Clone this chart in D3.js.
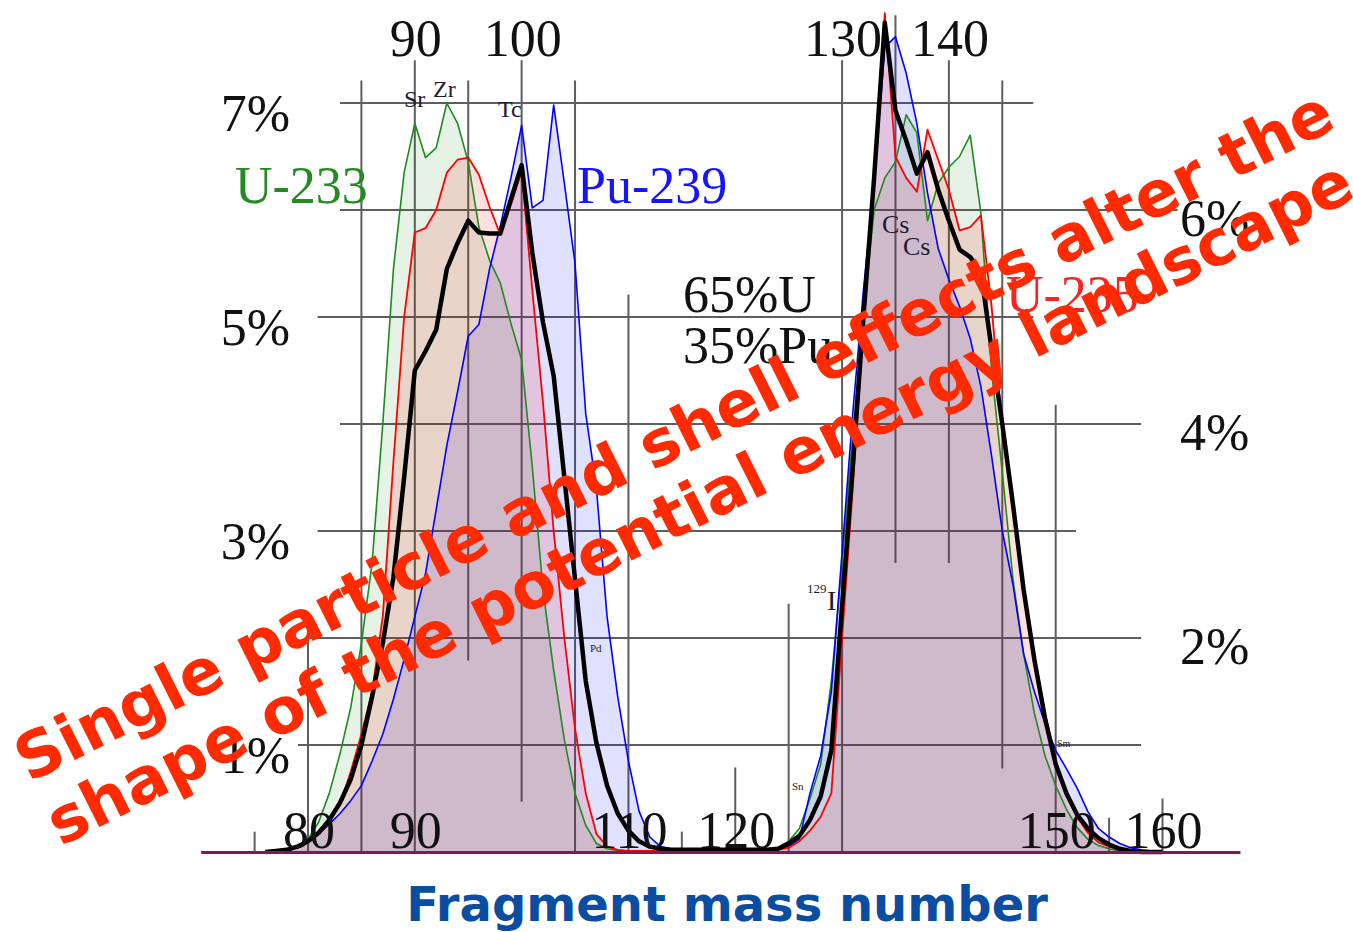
<!DOCTYPE html>
<html>
<head>
<meta charset="utf-8">
<script src="https://cdn.jsdelivr.net/npm/d3@7"></script>
<style>
  html, body { margin: 0; padding: 0; background: #fff; }
  svg { display: block; }
</style>
</head>
<body>
<svg id="chart" width="1353" height="932"></svg>
<script>
// Fission product yields (%) per fragment mass number, A = 76 ... 160
const masses = d3.range(76, 161);

const u233 = [
  0, 0.01, 0.02, 0.05, 0.12, 0.28, 0.55, 0.92, 1.35, 1.95,
  2.7, 4.0, 5.45, 6.35, 6.81, 6.49, 6.58, 7.0, 6.81, 6.45,
  5.84, 5.53, 5.32, 4.94, 4.6, 3.6, 2.45, 1.7, 1.05, 0.55,
  0.25, 0.08, 0.03, 0.015, 0.01, 0.01, 0.01, 0.01, 0.01, 0.01,
  0.01, 0.01, 0.01, 0.01, 0.01, 0.01, 0.015, 0.02, 0.04, 0.1,
  0.22, 0.5, 0.82, 1.6, 2.7, 3.9, 5.0, 6.0, 6.3, 6.45,
  6.89, 6.72, 5.9, 6.25, 6.4, 6.5, 6.7, 5.97, 4.5, 3.55,
  2.55, 1.85, 1.3, 0.9, 0.62, 0.4, 0.23, 0.12, 0.06, 0.03,
  0.01, 0, 0, 0, 0
];

const u235 = [
  0, 0.01, 0.02, 0.05, 0.1, 0.18, 0.3, 0.45, 0.75, 1.1,
  1.5, 2.2, 3.65, 5.0, 5.79, 5.83, 6.0, 6.35, 6.47, 6.49,
  6.33, 6.03, 5.77, 6.05, 6.36, 5.25, 4.2, 3.0, 2.0, 1.15,
  0.55, 0.17, 0.05, 0.02, 0.01, 0.01, 0.01, 0.01, 0.01, 0.01,
  0.01, 0.01, 0.01, 0.01, 0.01, 0.01, 0.01, 0.01, 0.02, 0.04,
  0.1, 0.2, 0.33, 0.55, 2.0, 3.4, 4.9, 6.37, 7.84, 6.5,
  6.3, 6.17, 6.75, 6.47, 6.19, 5.81, 5.84, 5.95, 5.1, 3.95,
  3.25, 2.45, 1.85, 1.3, 0.85, 0.55, 0.33, 0.18, 0.09, 0.05,
  0.02, 0.01, 0, 0, 0
];

const pu239 = [
  0, 0.01, 0.02, 0.04, 0.1, 0.17, 0.26, 0.36, 0.48, 0.62,
  0.85, 1.1, 1.43, 1.8, 2.2, 2.6, 3.2, 3.8, 4.3, 4.82,
  4.93, 5.45, 5.85, 6.3, 6.79, 6.02, 6.09, 6.98, 6.25, 5.5,
  4.1, 3.4, 2.2, 1.45, 0.85, 0.38, 0.14, 0.05, 0.03, 0.02,
  0.02, 0.02, 0.02, 0.02, 0.02, 0.02, 0.02, 0.02, 0.03, 0.05,
  0.12, 0.55, 0.9, 1.5, 2.8, 4.1, 5.25, 6.25, 7.52, 7.62,
  7.28, 6.81, 6.16, 5.64, 5.35, 5.1, 4.8, 4.35, 3.7, 3.0,
  2.5, 1.85, 1.5, 1.2, 0.95, 0.78, 0.6, 0.38, 0.22, 0.14,
  0.08, 0.04, 0.02, 0.01, 0
];

// 65% U + 35% Pu mixture
const mix = [
  0, 0.01, 0.02, 0.05, 0.1, 0.18, 0.3, 0.46, 0.68, 1.0,
  1.45, 1.95, 2.57, 3.5, 4.5, 4.68, 4.88, 5.45, 5.69, 5.9,
  5.79, 5.78, 5.78, 6.1, 6.42, 5.6, 4.95, 4.45, 3.5, 2.55,
  1.6, 1.02, 0.62, 0.36, 0.2, 0.1, 0.05, 0.03, 0.02, 0.02,
  0.02, 0.02, 0.02, 0.02, 0.02, 0.02, 0.02, 0.02, 0.03, 0.08,
  0.15, 0.3, 0.52, 0.95, 2.3, 3.6, 5.0, 6.3, 7.75, 6.93,
  6.65, 6.34, 6.54, 6.19, 5.9, 5.63, 5.56, 5.42, 4.7, 4.0,
  3.25, 2.45, 1.8, 1.25, 0.82, 0.55, 0.35, 0.22, 0.13, 0.07,
  0.03, 0.01, 0, 0, 0
];

// Grid: vertical rules (mass number, top / bottom in %) and horizontal rules (%, start / end in mass number)
const gridMasses   = [75, 80, 85, 90, 95, 100, 105, 110, 115, 120, 125, 130, 135, 140, 145, 150, 155, 160];
const gridMassTop  = [0.19, 2.21, 7.21, 7.40, 7.21, 7.40, 7.21, 5.21, 0.19, 0.79, 2.32, 7.40, 7.82, 7.40, 7.21, 4.18, 0.32, 0.50];
const gridMassBot  = [0, 0, 0, 0, 1.79, 0.47, 0, 0, 0, 0, 0, 0, 2.70, 2.70, 0.78, 0, 0, 0];
const gridLevels     = [1, 2, 3, 4, 5, 6, 7];
const gridLevelStart = [79.05, 79.9, 80.9, 83.0, 80.9, 83.0, 83.0];
const gridLevelEnd   = [158.0, 158.0, 151.9, 158.0, 147.9, 161.4, 147.9];

// Tick labels
const topTicks    = [90, 100, 130, 140];
const bottomTicks = [80, 90, 110, 120, 150, 160];
const leftTicks   = [7, 5, 3, 1];
const rightTicks  = [6, 4, 2];

const svg = d3.select("#chart");
const x = d3.scaleLinear().domain([80, 160]).range([308, 1162.5]);
const y = d3.scaleLinear().domain([0, 7]).range([852, 103]);

const serif = "'Liberation Serif', 'Times New Roman', serif";
const sans  = "'DejaVu Sans', Verdana, sans-serif";

// grid
const grid = svg.append("g").attr("stroke", "#5e5e5e").attr("stroke-width", 2);
gridMasses.forEach((m, i) => {
  grid.append("line")
    .attr("x1", x(m)).attr("x2", x(m))
    .attr("y1", y(gridMassTop[i])).attr("y2", y(gridMassBot[i]));
});
gridLevels.forEach((v, i) => {
  grid.append("line")
    .attr("x1", x(gridLevelStart[i])).attr("x2", x(gridLevelEnd[i]))
    .attr("y1", y(v)).attr("y2", y(v));
});

// series
const series = [
  { name: "U-233",  values: u233,  stroke: "#1f8a1f", fill: "rgb(0,128,0)",   fillOpacity: 0.10, width: 1.6 },
  { name: "Pu-239", values: pu239, stroke: "#0000ff", fill: "rgb(0,0,255)",   fillOpacity: 0.12, width: 1.6 },
  { name: "U-235",  values: u235,  stroke: "#ff0000", fill: "rgb(255,0,0)",   fillOpacity: 0.12, width: 1.8 }
];

const area = d3.area().x(d => x(d[0])).y0(y(0)).y1(d => y(d[1]));
const line = d3.line().x(d => x(d[0])).y(d => y(d[1]));

series.forEach(s => {
  svg.append("path")
    .datum(masses.map((m, i) => [m, s.values[i]]))
    .attr("d", area)
    .attr("fill", s.fill)
    .attr("fill-opacity", s.fillOpacity);
});

series.forEach(s => {
  svg.append("path")
    .datum(masses.map((m, i) => [m, s.values[i]]))
    .attr("d", line)
    .attr("fill", "none")
    .attr("stroke", s.stroke)
    .attr("stroke-width", s.width)
    .attr("stroke-linejoin", "round");
});

svg.append("path")
  .datum(masses.map((m, i) => [m, mix[i]]))
  .attr("d", line)
  .attr("fill", "none")
  .attr("stroke", "#000")
  .attr("stroke-width", 4.5)
  .attr("stroke-linejoin", "round");

// zero line along the bottom, on top of the flat tails
svg.append("line")
  .attr("x1", x(70)).attr("x2", x(167.3))
  .attr("y1", y(0) + 0.5).attr("y2", y(0) + 0.5)
  .attr("stroke", "#7a1c5c").attr("stroke-width", 3);

// tick labels
const lab = svg.append("g").attr("font-family", serif).attr("font-size", 52).attr("fill", "#111");
topTicks.forEach(t => lab.append("text").attr("x", x(t) + 1).attr("y", 56).attr("text-anchor", "middle").text(t));
bottomTicks.forEach(t => lab.append("text").attr("x", x(t) + 1).attr("y", 848).attr("text-anchor", "middle").text(t));
leftTicks.forEach(t => lab.append("text").attr("x", 290).attr("y", y(t) + 28).attr("text-anchor", "end").text(t + "%"));
rightTicks.forEach(t => lab.append("text").attr("x", 1180).attr("y", y(t) + 26).text(t + "%"));

// series names
lab.append("text").attr("x", 235).attr("y", 203).attr("fill", "#228b22").text("U-233");
lab.append("text").attr("x", 577).attr("y", 203).attr("fill", "#1414ff").text("Pu-239");
lab.append("text").attr("x", 1006).attr("y", 312).attr("fill", "#ff2020").text("U-235");
lab.append("text").attr("x", 683).attr("y", 312).text("65%U");
lab.append("text").attr("x", 683).attr("y", 363).text("35%Pu");

// nuclide markers
const small = svg.append("g").attr("font-family", serif).attr("fill", "#1c1c30");
small.append("text").attr("x", 404).attr("y", 107).attr("font-size", 24).text("Sr");
small.append("text").attr("x", 433).attr("y", 97).attr("font-size", 24).text("Zr");
small.append("text").attr("x", 498).attr("y", 117).attr("font-size", 24).text("Tc");
small.append("text").attr("x", 882).attr("y", 233).attr("font-size", 26).text("Cs");
small.append("text").attr("x", 903).attr("y", 255).attr("font-size", 26).text("Cs");
small.append("text").attr("x", 807).attr("y", 593).attr("font-size", 13).text("129");
small.append("text").attr("x", 827).attr("y", 610).attr("font-size", 28).text("I");
small.append("text").attr("x", 590).attr("y", 652).attr("font-size", 11).text("Pd");
small.append("text").attr("x", 792).attr("y", 790).attr("font-size", 11).text("Sn");
small.append("text").attr("x", 1057).attr("y", 747).attr("font-size", 10).text("Sm");

// axis title
svg.append("text")
  .attr("x", 727).attr("y", 921)
  .attr("text-anchor", "middle")
  .attr("font-family", sans).attr("font-weight", "bold").attr("font-size", 48)
  .attr("fill", "#0b4da1")
  .text("Fragment mass number");

// rotated banner
const banner = svg.append("g")
  .attr("transform", "translate(29,783) rotate(-26.6)")
  .attr("font-family", sans).attr("font-weight", "bold").attr("font-size", 63.5)
  .attr("fill", "#ff2a00");
banner.append("text").attr("x", 0).attr("y", 0).text("Single particle and shell effects alter the");
banner.append("text").attr("x", 0).attr("y", 71).text("shape of the potential energy landscape");
</script>
</body>
</html>
